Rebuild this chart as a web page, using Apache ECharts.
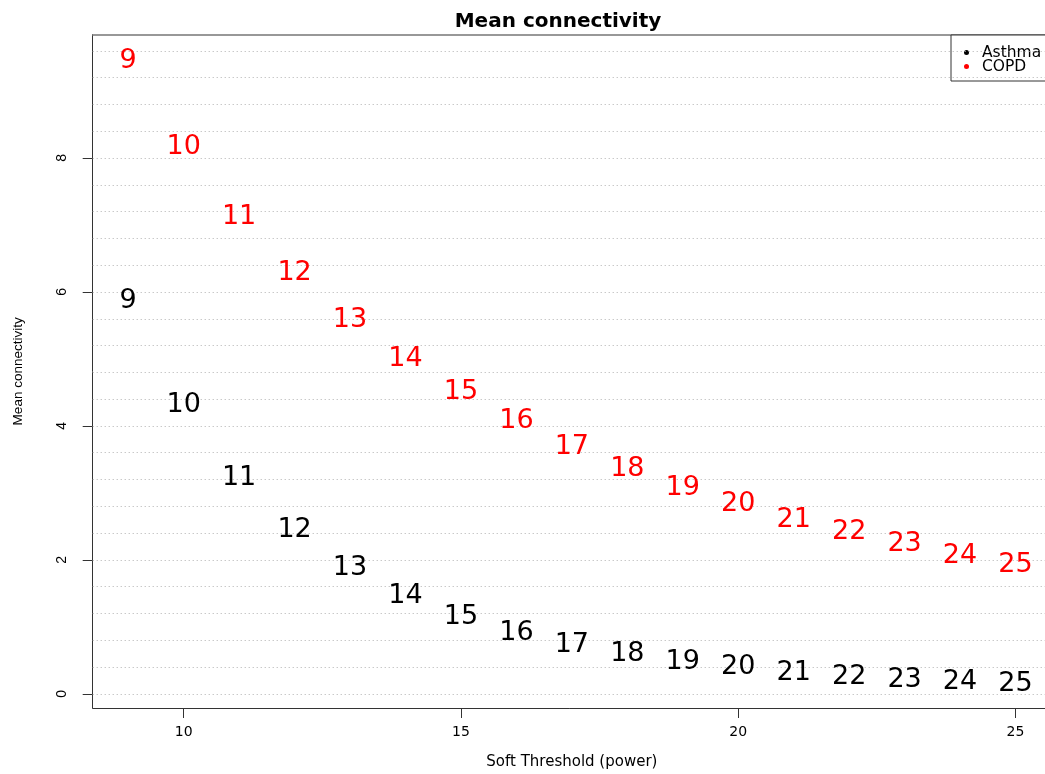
<!DOCTYPE html>
<html>
<head>
<meta charset="utf-8">
<script src="https://cdn.jsdelivr.net/npm/echarts@6/dist/echarts.min.js"></script>
<style>
html,body{margin:0;padding:0;background:#fff;overflow:hidden;}
#chart{width:1045px;height:774px;}
</style>
</head>
<body>
<div id="chart"></div>
<script>
// ---- data ----
const powers = [9,10,11,12,13,14,15,16,17,18,19,20,21,22,23,24,25];
const asthmaK = [5.87,4.32,3.23,2.45,1.88,1.46,1.15,0.91,0.73,0.59,0.47,0.40,0.32,0.26,0.21,0.185,0.155];
const copdK   = [9.45,8.16,7.12,6.28,5.58,5.00,4.50,4.07,3.69,3.36,3.08,2.84,2.60,2.41,2.24,2.06,1.92];
const xTicks = [10,15,20,25];
const yTicks = [0,2,4,6,8];
const seriesNames = ['Asthma','COPD'];

// dotted reference levels (every 0.4 from 0 to 9.6)
const refLevels = [];
for (let i = 0; i <= 24; i++) refLevels.push(Math.round(i * 0.4 * 10) / 10);

const chart = echarts.init(document.getElementById('chart'), null, {renderer:'canvas'});

function labelSeries(name, vals, color) {
  return {
    name: name,
    type: 'scatter',
    data: powers.map((p, i) => [p, vals[i]]),
    symbol: 'circle',
    symbolSize: 0,
    itemStyle: {color: color, opacity: 1},
    label: {
      show: true,
      position: 'inside',
      formatter: p => String(p.value[0]),
      color: color,
      opacity: 1,
      textBorderWidth: 0,
      fontFamily: 'DejaVu Sans',
      fontSize: 27
    },
    emphasis: {disabled: true},
    z: 5
  };
}

const option = {
  backgroundColor: '#ffffff',
  animation: false,
  title: {
    text: 'Mean connectivity',
    left: 553,
    top: 7,
    textAlign: 'center',
    textStyle: {fontFamily: 'DejaVu Sans', fontWeight: 'bold', fontSize: 20, color: '#000'}
  },
  legend: {
    data: seriesNames.map(n => ({name: n, icon: 'circle'})),
    orient: 'vertical',
    left: 951,
    top: 35,
    itemWidth: 5,
    itemHeight: 5,
    itemGap: -2,
    padding: [9.5, 40, 6.5, 13],
    borderColor: '#333',
    borderWidth: 1,
    backgroundColor: '#fff',
    textStyle: {fontFamily: 'DejaVu Sans', fontSize: 15.5, color: '#000', padding: [0,0,0,8]}
  },
  grid: {
    left: 92.7,
    right: -6,
    top: 34.7,
    bottom: 66,
    show: false,
    containLabel: false,
    outerBoundsMode: 'none'
  },
  xAxis: [{
    type: 'value',
    min: 8.36,
    max: 25.64,
    name: 'Soft Threshold (power)',
    nameLocation: 'middle',
    nameGap: 47,
    nameTextStyle: {fontFamily: 'DejaVu Sans', fontSize: 15, color: '#000'},
    axisLine: {show: true, onZero: false, lineStyle: {color: '#333', width: 1}},
    axisTick: {show: true, inside: false, length: 10, customValues: xTicks, lineStyle: {color: '#333'}},
    axisLabel: {show: true, customValues: xTicks, margin: 17, fontFamily: 'DejaVu Sans', fontSize: 14, color: '#000'},
    splitLine: {show: false}
  }, {
    type: 'value',
    position: 'top',
    min: 8.36,
    max: 25.64,
    axisLine: {show: true, onZero: false, lineStyle: {color: '#777', width: 1.5}},
    axisTick: {show: false},
    axisLabel: {show: false},
    splitLine: {show: false}
  }],
  yAxis: {
    type: 'value',
    min: -0.21,
    max: 9.84,
    name: 'Mean connectivity',
    nameLocation: 'middle',
    nameRotate: 90,
    nameGap: 67,
    nameTextStyle: {fontFamily: 'Liberation Sans', fontSize: 13.5, color: '#000'},
    axisLine: {show: true, onZero: false, lineStyle: {color: '#333', width: 1}},
    axisTick: {show: true, inside: false, length: 10, customValues: yTicks, lineStyle: {color: '#333'}},
    axisLabel: {show: true, customValues: yTicks, rotate: 90, margin: 24, fontFamily: 'Liberation Sans', fontSize: 14, color: '#000'},
    splitLine: {show: false}
  },
  series: [
    labelSeries(seriesNames[0], asthmaK, '#000000'),
    labelSeries(seriesNames[1], copdK, '#ff0000'),
    {
      name: 'ref',
      type: 'scatter',
      data: [],
      silent: true,
      z: 1,
      markLine: {
        silent: true,
        symbol: ['none','none'],
        label: {show: false},
        emphasis: {disabled: true},
        lineStyle: {color: '#b0b0b0', type: [1,3], width: 1},
        data: refLevels.map(v => ({yAxis: v}))
      }
    }
  ]
};
chart.setOption(option);
</script>
</body>
</html>
